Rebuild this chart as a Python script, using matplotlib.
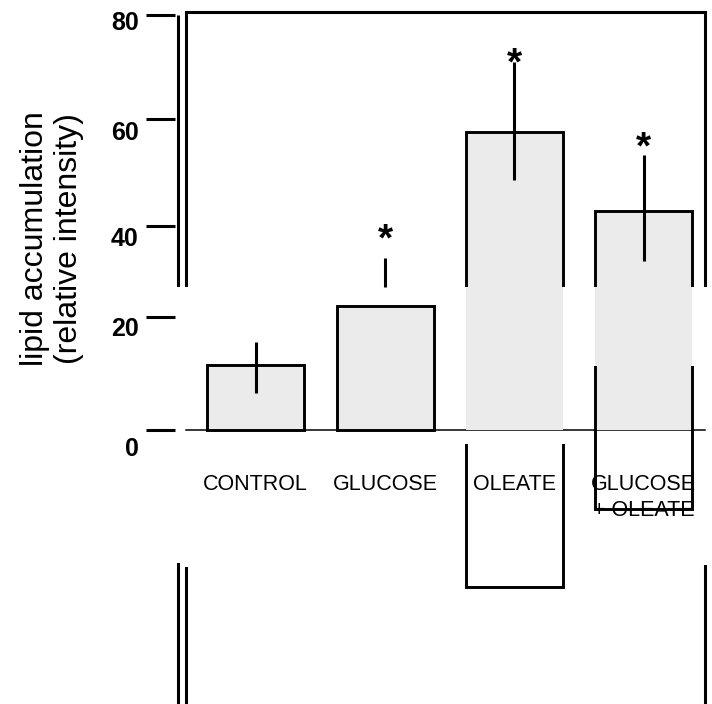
import numpy as np
import matplotlib.pyplot as plt
from matplotlib.transforms import ScaledTranslation
from matplotlib.patches import Rectangle

plt.rcParams['font.family'] = ['Liberation Sans', 'DejaVu Sans']

groups = ['CONTROL', 'GLUCOSE', 'OLEATE', 'GLUCOSE\n+ OLEATE']
means = [12.5, 23.9, 57.5, 42.2]
err_lo = [7.1, 27.6, 48.2, 32.6]
err_hi = [17.0, 33.1, 71.0, 53.1]
star = [False, True, True, True]
star_y = [0, 38.6, 72.7, 56.4]
yticks = [0, 20, 40, 60, 80]

# the source picture is torn: everything under y_break was redrawn lower
y_break = 27.6
outline_shift = [0, 0, 157, 79]   # px, per bar outline
frame_shift = [276, 280, 278]     # px, outer left / inner left / right line
# ticks and their labels sit a bit off in the source too (px, + is down)
tick_nudge = [0, -9, 3, 0, 0]
label_nudge = [17, 0.5, 13.5, 12, 5.5]

DPI = 100
fig = plt.figure(figsize=(7.12, 7.04), dpi=DPI)
ax = fig.add_axes([186 / 712, 274 / 704, 519 / 712, 418 / 704])
ax.set_xlim(-0.54, 3.475)
ax.set_ylim(0, 80.6)
ax.set_autoscale_on(False)
for s in ax.spines.values():
    s.set_visible(False)
ax.spines['left'].set_position(('outward', 8))


def down(px):
    return ScaledTranslation(0, -px / DPI, fig.dpi_scale_trans)


def split(draw, shift):
    # upper piece stays put, lower piece is drawn again shift px lower
    for lower in (False, True):
        off = down(shift if lower else 0)
        base = ax.get_yaxis_transform() + off
        if lower:
            box = Rectangle((-1, -500), 3, 500 + y_break, transform=base)
        else:
            box = Rectangle((-1, y_break), 3, 500, transform=base)
        for art in draw(off):
            art.set_clip_path(box)


x = np.arange(len(groups))
w = 0.75

ax.axhline(0, color='black', lw=1.1, zorder=0.5, clip_on=False)
ax.bar(x, means, w, color='#ebebeb', edgecolor='none', zorder=1)

for i in range(len(groups)):
    split(lambda off, i=i: ax.bar(x[i], means[i], w, fill=False, edgecolor='black',
                                  lw=2.1, zorder=3, transform=ax.transData + off).patches,
          outline_shift[i])

ax.vlines(x, err_lo, err_hi, color='black', lw=2.2, zorder=4)

for i in range(len(groups)):
    if star[i]:
        ax.annotate('*', (x[i], star_y[i]), xytext=(0, -8), textcoords='offset points',
                    ha='center', va='center', fontsize=28, fontweight='bold')

# frame lines
left_out = ScaledTranslation(-8 / DPI, 0, fig.dpi_scale_trans)
split(lambda off: ax.plot([0, 0], [0, 80], color='black', lw=2.2, solid_capstyle='butt',
                          transform=ax.get_yaxis_transform() + left_out + off), frame_shift[0])
split(lambda off: ax.plot([0, 0], [0, 1], color='black', lw=2.2, solid_capstyle='butt',
                          transform=ax.transAxes + off), frame_shift[1])
split(lambda off: ax.plot([1, 1], [0, 1], color='black', lw=2.2, solid_capstyle='butt',
                          transform=ax.transAxes + off), frame_shift[2])
ax.plot([0, 1], [1, 1], color='black', lw=2.2, solid_capstyle='projecting',
        transform=ax.transAxes, clip_on=False)

ax.set_yticks(yticks)
ax.tick_params(axis='y', length=21, width=2.2, pad=5, labelsize=18, direction='out')
for t, tn, ln in zip(ax.yaxis.get_major_ticks(), tick_nudge, label_nudge):
    t.label1.set_fontweight('bold')
    t.label1.set_transform(t.label1.get_transform() + down(ln))
    t.tick1line.set_transform(t.tick1line.get_transform() + down(tn))

ax.set_xticks(x, groups)
ax.tick_params(axis='x', length=0, pad=32, labelsize=15.5)
for t in ax.get_xticklabels():
    t.set_linespacing(1.3)

ax.set_ylabel('lipid accumulation\n(relative intensity)', fontsize=23, va='center')
ax.yaxis.set_label_coords(-0.258, 0.459)

fig.savefig('out.png', dpi=DPI)
